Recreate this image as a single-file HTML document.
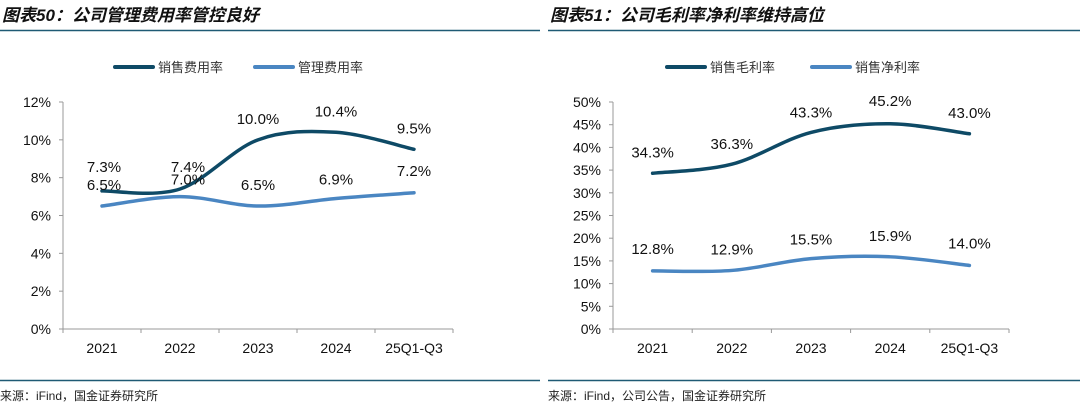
<!DOCTYPE html>
<html><head><meta charset="utf-8"><style>
html,body{margin:0;padding:0;background:#fff;width:1080px;height:413px;overflow:hidden}
svg text{font-family:"Liberation Sans","Noto Sans CJK SC",sans-serif}
</style></head><body>
<svg id="s" width="1080" height="413" xmlns="http://www.w3.org/2000/svg">
<g font-family="Liberation Sans, Noto Sans CJK SC, sans-serif">
<text x="2" y="21" font-size="17" font-weight="bold" font-style="italic" fill="#111">图表50：公司管理费用率管控良好</text>
<text x="550" y="21" font-size="17" font-weight="bold" font-style="italic" fill="#111">图表51：公司毛利率净利率维持高位</text>
<line x1="0" y1="30.5" x2="540" y2="30.5" stroke="#1f5a74" stroke-width="1.5"/>
<line x1="548" y1="30.5" x2="1080" y2="30.5" stroke="#1f5a74" stroke-width="1.5"/>
<line x1="0" y1="380.5" x2="540" y2="380.5" stroke="#1f5a74" stroke-width="1.5"/>
<line x1="548" y1="380.5" x2="1080" y2="380.5" stroke="#1f5a74" stroke-width="1.5"/>
<text x="0" y="400" font-size="12" fill="#222">来源：iFind，国金证券研究所</text>
<text x="548" y="400" font-size="12" fill="#222">来源：iFind，公司公告，国金证券研究所</text>
<line x1="115" y1="67" x2="153" y2="67" stroke="#0e4a66" stroke-width="4" stroke-linecap="round"/>
<text x="158" y="72" font-size="13" fill="#333">销售费用率</text>
<line x1="255" y1="67" x2="293" y2="67" stroke="#4a86c2" stroke-width="4" stroke-linecap="round"/>
<text x="298" y="72" font-size="13" fill="#333">管理费用率</text>
<line x1="667" y1="67" x2="705" y2="67" stroke="#0e4a66" stroke-width="4" stroke-linecap="round"/>
<text x="710" y="72" font-size="13" fill="#333">销售毛利率</text>
<line x1="812" y1="67" x2="850" y2="67" stroke="#4a86c2" stroke-width="4" stroke-linecap="round"/>
<text x="855" y="72" font-size="13" fill="#333">销售净利率</text>
</g>
<g id="c"></g>
</svg>
<script>
var NS="http://www.w3.org/2000/svg",g=document.getElementById('c');
function el(t,a,txt){var e=document.createElementNS(NS,t);for(var k in a)e.setAttribute(k,a[k]);if(txt!=null)e.textContent=txt;g.appendChild(e);return e;}
function smooth(p){var d="M"+p[0][0]+","+p[0][1];for(var i=0;i<p.length-1;i++){var p0=p[i-1]||p[i],p1=p[i],p2=p[i+1],p3=p[i+2]||p2;var t=6;d+=" C"+(p1[0]+(p2[0]-p0[0])/t)+","+(p1[1]+(p2[1]-p0[1])/t)+" "+(p2[0]-(p3[0]-p1[0])/t)+","+(p2[1]-(p3[1]-p1[1])/t)+" "+p2[0]+","+p2[1];}return d;}
function chart(o){
 var x0=o.x0,x1=o.x1,y0=329,yt=102,n=o.ticks.length-1;
 el('line',{x1:x0,y1:yt,x2:x0,y2:y0,stroke:'#999','stroke-width':1});
 el('line',{x1:x0,y1:y0,x2:x1,y2:y0,stroke:'#999','stroke-width':1});
 o.ticks.forEach(function(t,i){var y=y0-(y0-yt)*i/n;el('line',{x1:x0-4,y1:y,x2:x0,y2:y,stroke:'#999'});el('text',{x:x0-12,y:y+5,'font-size':14,'text-anchor':'end',fill:'#111'},t);});
 var sp=(x1-x0)/5;
 for(var i=0;i<=5;i++)el('line',{x1:x0+sp*i,y1:y0,x2:x0+sp*i,y2:y0+4,stroke:'#999'});
 var cats=['2021','2022','2023','2024','25Q1-Q3'];
 cats.forEach(function(c,i){el('text',{x:x0+sp*(i+.5),y:353,'font-size':14,'text-anchor':'middle',fill:'#111'},c);});
 o.series.forEach(function(s){
  var pts=s.v.map(function(v,i){return [x0+sp*(i+.5),y0-(y0-yt)*v/o.max];});
  el('path',{d:smooth(pts),fill:'none',stroke:s.c,'stroke-width':3.5,'stroke-linecap':'round'});
  pts.forEach(function(p,i){el('text',{x:p[0]+(s.dx?s.dx[i]:0),y:p[1]-s.off[i],'font-size':15,'text-anchor':'middle',fill:'#111'},s.v[i].toFixed(1)+'%');});
 });
}
chart({x0:63,x1:453,max:12,ticks:['0%','2%','4%','6%','8%','10%','12%'],series:[
 {v:[7.3,7.4,10.0,10.4,9.5],c:'#0e4a66',off:[19,17,16,16,16],dx:[2,8,0,0,0]},
 {v:[6.5,7.0,6.5,6.9,7.2],c:'#4a86c2',off:[16,12,16,14,17],dx:[2,8,0,0,0]}]});
chart({x0:613,x1:1009,max:50,ticks:['0%','5%','10%','15%','20%','25%','30%','35%','40%','45%','50%'],series:[
 {v:[34.3,36.3,43.3,45.2,43.0],c:'#0e4a66',off:[16,15,15,18,16]},
 {v:[12.8,12.9,15.5,15.9,14.0],c:'#4a86c2',off:[17,16,14,16,17]}]});
</script>
</body></html>
